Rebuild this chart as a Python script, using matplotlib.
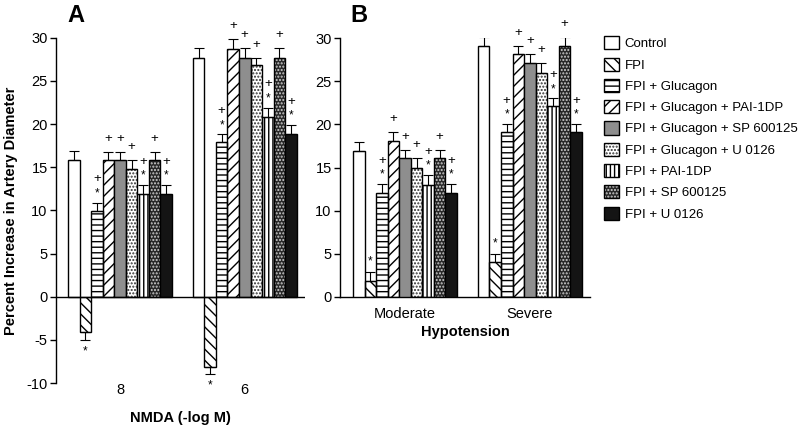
import matplotlib
matplotlib.use("Agg")
import matplotlib.pyplot as plt
import numpy as np
from matplotlib.patches import Patch

plt.rcParams['font.family'] = ['Liberation Sans', 'DejaVu Sans']
plt.rcParams['axes.unicode_minus'] = False

treatments = ["Control", "FPI", "FPI + Glucagon", "FPI + Glucagon + PAI-1DP",
              "FPI + Glucagon + SP 600125", "FPI + Glucagon + U 0126",
              "FPI + PAI-1DP", "FPI + SP 600125", "FPI + U 0126"]

# Panel A: NMDA (-log M)
nmda_labels = ["8", "6"]
nmda_8 = [15.8, -4.1, 9.9, 15.8, 15.8, 14.8, 11.9, 15.8, 11.9]
nmda_8_err = [1.1, 0.9, 1.0, 1.0, 1.0, 1.0, 1.0, 1.0, 1.0]
nmda_6 = [27.7, -8.2, 17.9, 28.7, 27.7, 26.9, 20.8, 27.7, 18.9]
nmda_6_err = [1.1, 0.8, 0.9, 1.2, 1.1, 0.8, 1.1, 1.1, 0.95]

# Panel B: Hypotension
hypo_labels = ["Moderate", "Severe"]
moderate = [16.9, 1.9, 12.0, 18.1, 16.1, 15.0, 13.0, 16.1, 12.0]
moderate_err = [1.0, 1.0, 1.1, 1.0, 0.9, 1.1, 1.1, 0.9, 1.1]
severe = [29.1, 4.0, 19.1, 28.1, 27.1, 26.0, 22.1, 29.1, 19.1]
severe_err = [1.05, 1.0, 0.9, 1.0, 1.1, 1.1, 0.9, 1.0, 0.9]

# significance marks (+ : vs FPI, * : vs control)
marks = ["", "*", "+*", "+", "+", "+", "+*", "+", "+*"]

# styles: (facecolor, hatch, hatch colour)
styles = [
    ("white", None, "black"),
    ("white", "\\\\\\", "black"),
    ("white", "---", "black"),
    ("white", "///", "black"),
    ("#8e8e8e", None, "black"),
    ("white", ".....", "#303030"),
    ("white", "||||", "black"),
    ("#282828", ".....", "#d0d0d0"),
    ("#141414", None, "black"),
]

bw = 0.1
offsets = (np.arange(9) - 4) * bw
centers = [0.0, 1.08]

fig = plt.figure(figsize=(8, 4.32), dpi=100)
axA = fig.add_axes([0.07, 0.1134, 0.311, 0.799])
axB = fig.add_axes([0.425, 0.3125, 0.3125, 0.5995])


def draw_group(ax, c, vals, errs):
    for i, (v, e) in enumerate(zip(vals, errs)):
        x = c + offsets[i]
        fc, h, hc = styles[i]
        if h is not None:
            ax.bar(x, v, bw, color=fc, edgecolor=hc, hatch=h, linewidth=0, zorder=2)
            ax.bar(x, v, bw, facecolor="none", edgecolor="black", linewidth=1.0, zorder=3)
        else:
            ax.bar(x, v, bw, color=fc, edgecolor="black", linewidth=1.0, zorder=3)
        if v >= 0:
            yerr = [[0], [e]]
        else:
            yerr = [[e], [0]]
        ax.errorbar(x, v, yerr=yerr, fmt="none", ecolor="black", elinewidth=0.8,
                    capsize=3.5, capthick=0.8, zorder=4)
        m = marks[i]
        if v >= 0:
            cap = v + e
            if m == "+*":
                ax.text(x, cap + 1.1, "*", ha="center", va="center", fontsize=8.5, zorder=5)
                ax.text(x, cap + 2.7, "+", ha="center", va="center", fontsize=9.5, zorder=5)
            elif m == "+":
                ax.text(x, cap + 1.5, "+", ha="center", va="center", fontsize=9.5, zorder=5)
            elif m == "*":
                ax.text(x, cap + 1.2, "*", ha="center", va="center", fontsize=8.5, zorder=5)
        else:
            cap = v - e
            if m:
                ax.text(x, cap - 1.3, "*", ha="center", va="center", fontsize=8.5, zorder=5)


FS = 10.5

# Panel A
draw_group(axA, centers[0], nmda_8, nmda_8_err)
draw_group(axA, centers[1], nmda_6, nmda_6_err)
axA.set_xlim(-0.554, 1.60)
axA.set_ylim(-10, 30)
axA.set_yticks(np.arange(-10, 31, 5))
axA.axhline(0, color="black", linewidth=1.0, zorder=4)
for s in ["top", "right", "bottom"]:
    axA.spines[s].set_visible(False)
axA.spines["left"].set_linewidth(1.0)
axA.set_xticks(centers)
axA.set_xticklabels(nmda_labels, fontsize=FS)
axA.tick_params(axis="x", length=0, pad=0)
axA.tick_params(axis="y", labelsize=FS, length=4, width=1.0, direction="out", pad=2)
axA.set_xlabel("NMDA (-log M)", fontsize=FS, fontweight="bold", labelpad=10)
axA.set_ylabel("Percent Increase in Artery Diameter", fontsize=FS, fontweight="bold", labelpad=6)
fig.text(0.084, 0.965, "A", fontsize=17, fontweight="bold", ha="left", va="center")

# Panel B
draw_group(axB, centers[0], moderate, moderate_err)
draw_group(axB, centers[1], severe, severe_err)
axB.set_xlim(-0.562, 1.60)
axB.set_ylim(0, 30)
axB.set_yticks(np.arange(0, 31, 5))
for s in ["top", "right"]:
    axB.spines[s].set_visible(False)
axB.spines["left"].set_linewidth(1.0)
axB.spines["bottom"].set_linewidth(1.0)
axB.set_xticks(centers)
axB.set_xticklabels(hypo_labels, fontsize=FS)
axB.tick_params(axis="x", length=0, pad=7)
axB.tick_params(axis="y", labelsize=FS, length=4, width=1.0, direction="out", pad=2)
axB.set_xlabel("Hypotension", fontsize=FS, fontweight="bold", labelpad=3)
fig.text(0.438, 0.965, "B", fontsize=17, fontweight="bold", ha="left", va="center")

# Legend
handles = []
for fc, h, hc in styles:
    if h is not None:
        p1 = Patch(facecolor=fc, edgecolor=hc, hatch=h, linewidth=0)
        p2 = Patch(facecolor="none", edgecolor="black", linewidth=1.0)
        handles.append((p1, p2))
    else:
        handles.append(Patch(facecolor=fc, edgecolor="black", linewidth=1.0))
fig.legend(handles, treatments, loc="upper left", bbox_to_anchor=(0.748, 0.928),
           frameon=False, fontsize=9.5, handlelength=1.15, handleheight=1.15,
           handletextpad=0.45, labelspacing=0.55, borderaxespad=0)

fig.savefig("out.png", dpi=100)
